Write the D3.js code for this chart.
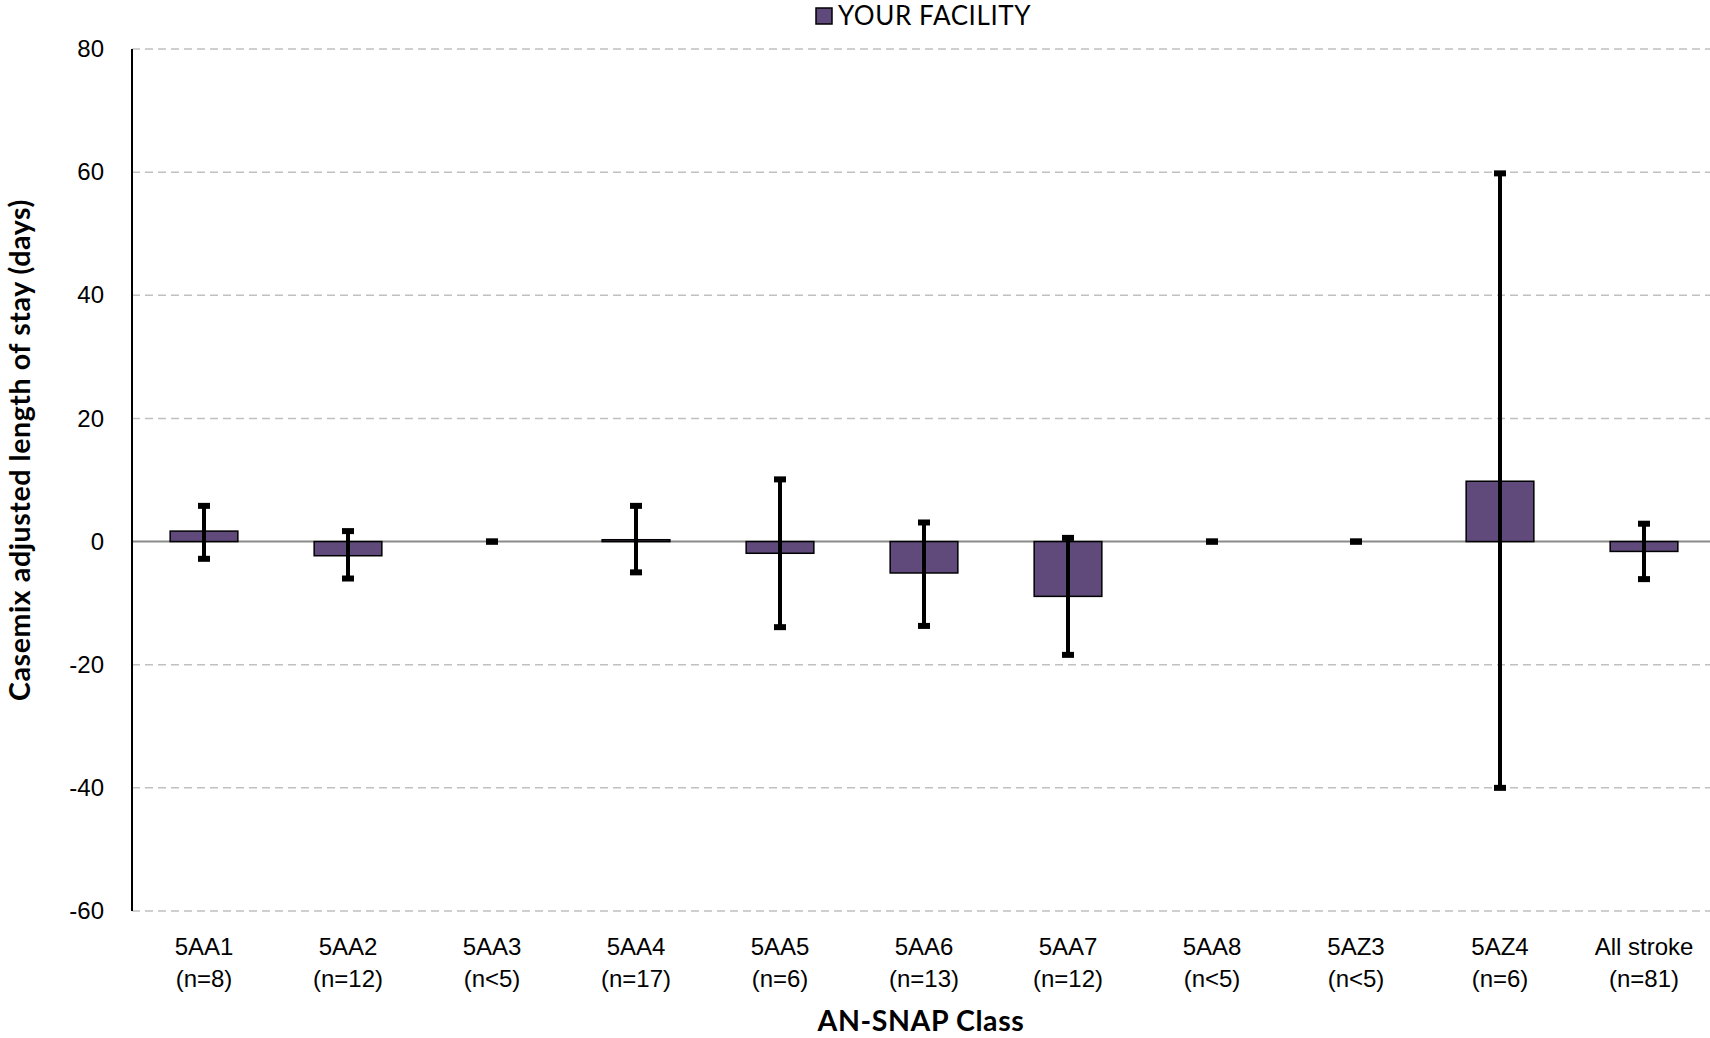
<!DOCTYPE html>
<html>
<head>
<meta charset="utf-8">
<script src="https://cdn.jsdelivr.net/npm/d3@7"></script>
<style>
  body { margin: 0; background: #fff; }
  svg { display: block; font-family: Lato, "Noto Sans", sans-serif; }
  .tick text { fill: #000; font-size: 24px; }
  .axis-title { font-size: 28.5px; font-weight: bold; fill: #000; letter-spacing: 0.6px; }
</style>
</head>
<body>
<svg id="chart"></svg>
<script>
// data
const categories = ['5AA1', '5AA2', '5AA3', '5AA4', '5AA5', '5AA6', '5AA7', '5AA8', '5AZ3', '5AZ4', 'All stroke'];
const counts = ['(n=8)', '(n=12)', '(n<5)', '(n=17)', '(n=6)', '(n=13)', '(n=12)', '(n<5)', '(n<5)', '(n=6)', '(n=81)'];
const values = [1.7, -2.3, null, 0.3, -1.9, -5.1, -8.9, null, null, 9.8, -1.6];
const errUpper = [5.8, 1.7, 0, 5.8, 10.1, 3.1, 0.6, 0, 0, 59.8, 2.9];
const errLower = [-2.8, -6.0, 0, -5.0, -13.9, -13.7, -18.4, 0, 0, -40.0, -6.1];
const yTicks = [80, 60, 40, 20, 0, -20, -40, -60];
const seriesName = 'YOUR FACILITY';

const width = 1710, height = 1038;
const plot = { left: 132, right: 1716, top: 49, bottom: 911 };
const barColor = '#5f4a7b';

const data = categories.map((c, i) => ({
    cat: c, n: counts[i], value: values[i], hi: errUpper[i], lo: errLower[i]
}));

const svg = d3.select('#chart')
    .attr('width', width)
    .attr('height', height);

const x = d3.scaleBand()
    .domain(categories)
    .range([plot.left, plot.right])
    .paddingInner(0.53)
    .paddingOuter(0.265);

const y = d3.scaleLinear()
    .domain([-60, 80])
    .range([plot.bottom, plot.top]);

// dashed grid
svg.append('g')
    .selectAll('line')
    .data(yTicks.filter(t => t !== 0))
    .join('line')
    .attr('x1', plot.left)
    .attr('x2', width)
    .attr('y1', d => y(d))
    .attr('y2', d => y(d))
    .attr('stroke', '#c0c0c0')
    .attr('stroke-width', 1.5)
    .attr('stroke-dasharray', '8,5');

// y tick labels (plain hyphen for negatives, like the original)
const yAxisG = svg.append('g')
    .attr('transform', `translate(${plot.left},0)`)
    .call(d3.axisLeft(y).tickValues(yTicks).tickFormat(d => String(d)).tickSize(0).tickPadding(28));
yAxisG.select('.domain').remove();

// zero line
svg.append('line')
    .attr('x1', plot.left)
    .attr('x2', plot.right)
    .attr('y1', y(0))
    .attr('y2', y(0))
    .attr('stroke', '#8a8a8a')
    .attr('stroke-width', 2);

// bars
svg.append('g')
    .selectAll('rect')
    .data(data.filter(d => d.value !== null))
    .join('rect')
    .attr('x', d => x(d.cat))
    .attr('width', x.bandwidth())
    .attr('y', d => y(Math.max(0, d.value)))
    .attr('height', d => Math.abs(y(d.value) - y(0)))
    .attr('fill', barColor)
    .attr('stroke', '#000')
    .attr('stroke-width', 1.5);

// error bars
const cx = d => x(d.cat) + x.bandwidth() / 2;
const errG = svg.append('g');
errG.selectAll('line')
    .data(data)
    .join('line')
    .attr('x1', cx)
    .attr('x2', cx)
    .attr('y1', d => y(d.hi))
    .attr('y2', d => y(d.lo))
    .attr('stroke', '#000')
    .attr('stroke-width', 4);

const caps = data.flatMap(d => [{ d, v: d.hi }, { d, v: d.lo }]);
errG.selectAll('rect')
    .data(caps)
    .join('rect')
    .attr('x', c => cx(c.d) - 6)
    .attr('y', c => y(c.v) - 3)
    .attr('width', 12)
    .attr('height', 6)
    .attr('fill', '#000');

// y axis line
svg.append('line')
    .attr('x1', plot.left)
    .attr('x2', plot.left)
    .attr('y1', y(80))
    .attr('y2', y(-60))
    .attr('stroke', '#000')
    .attr('stroke-width', 2);

// x tick labels, two lines each
const xAxisG = svg.append('g')
    .attr('transform', `translate(0,${plot.bottom})`)
    .call(d3.axisBottom(x).tickSize(0));
xAxisG.select('.domain').remove();
xAxisG.selectAll('.tick text')
    .attr('y', 0)
    .attr('dy', null)
    .text(null)
    .each(function (c, i) {
        const t = d3.select(this);
        t.append('tspan').attr('x', 0).attr('y', 44).text(c);
        t.append('tspan').attr('x', 0).attr('y', 76).text(counts[i]);
    });

// axis titles
svg.append('text')
    .attr('class', 'axis-title')
    .attr('text-anchor', 'middle')
    .attr('transform', `translate(30,${(plot.top + plot.bottom) / 2 - 30}) rotate(-90)`)
    .text('Casemix adjusted length of stay (days)');

svg.append('text')
    .attr('class', 'axis-title')
    .attr('text-anchor', 'middle')
    .attr('x', 921)
    .attr('y', 1031)
    .text('AN-SNAP Class');

// legend
const legend = svg.append('g').attr('transform', 'translate(816,8)');
legend.append('rect')
    .attr('width', 16)
    .attr('height', 16)
    .attr('fill', barColor)
    .attr('stroke', '#000')
    .attr('stroke-width', 1.5);
legend.append('text')
    .attr('x', 22)
    .attr('y', 8)
    .attr('dy', '0.35em')
    .attr('font-size', 26)
    .attr('letter-spacing', 0.6)
    .attr('fill', '#000')
    .text(seriesName);
</script>
</body>
</html>
